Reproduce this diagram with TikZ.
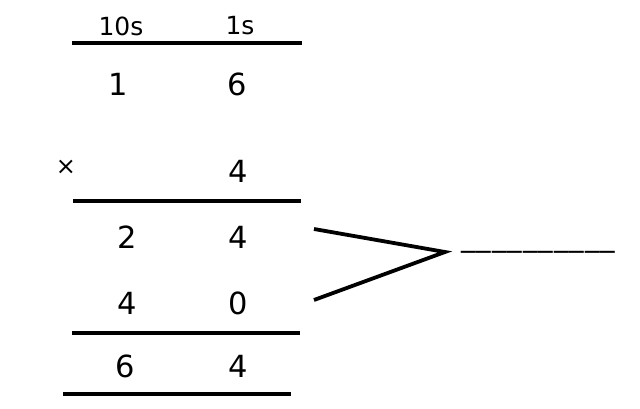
\documentclass[tikz,border=0pt]{standalone}
\usepackage{fontspec}
\setmainfont{DejaVu Sans}
\begin{document}
\begin{tikzpicture}[x=1pt,y=-1pt,
  head/.style={font=\fontsize{25}{28}\selectfont, inner sep=0pt},
  dig/.style={font=\fontsize{30.5}{33}\selectfont, inner sep=0pt},
  rule/.style={line width=3.4pt},
  vline/.style={line width=3.8pt}]
\useasboundingbox (0,0) rectangle (640,409);
\node[head] (h10) at (121,26) {10s};
\node[head] (h1) at (240,26) {1s};
\draw[rule] (72,43) -- (302,43);
\node[dig] (a1) at (118,84) {1};
\node[dig] (a2) at (237,84) {6};
\node[font=\fontsize{24}{26}\selectfont, inner sep=0pt] (times) at (66,167) {×};
\node[dig] (b2) at (238,171) {4};
\draw[rule] (73,201) -- (301,201);
\node[dig] (c1) at (127,237) {2};
\node[dig] (c2) at (238,237) {4};
\node[dig] (d1) at (127,303) {4};
\node[dig] (d2) at (238,303) {0};
\draw[rule] (72,333) -- (300,333);
\node[dig] (e1) at (125,366) {6};
\node[dig] (e2) at (238,366) {4};
\draw[rule] (63,394) -- (291,394);
\coordinate (vt) at (314,229);
\coordinate (vp) at (445,252);
\coordinate (vb) at (314,300);
\draw[vline] (vt) -- (vp) -- (vb);
\node[font=\fontsize{29}{31}\selectfont, inner sep=0pt, anchor=base west] (blank) at (461,246) {\_\kern1pt\_\kern1pt\_\kern1pt\_\kern1pt\_\kern1pt\_\kern1pt\_\kern1pt\_\kern1pt\_\kern1pt\_};
\end{tikzpicture}
\end{document}
